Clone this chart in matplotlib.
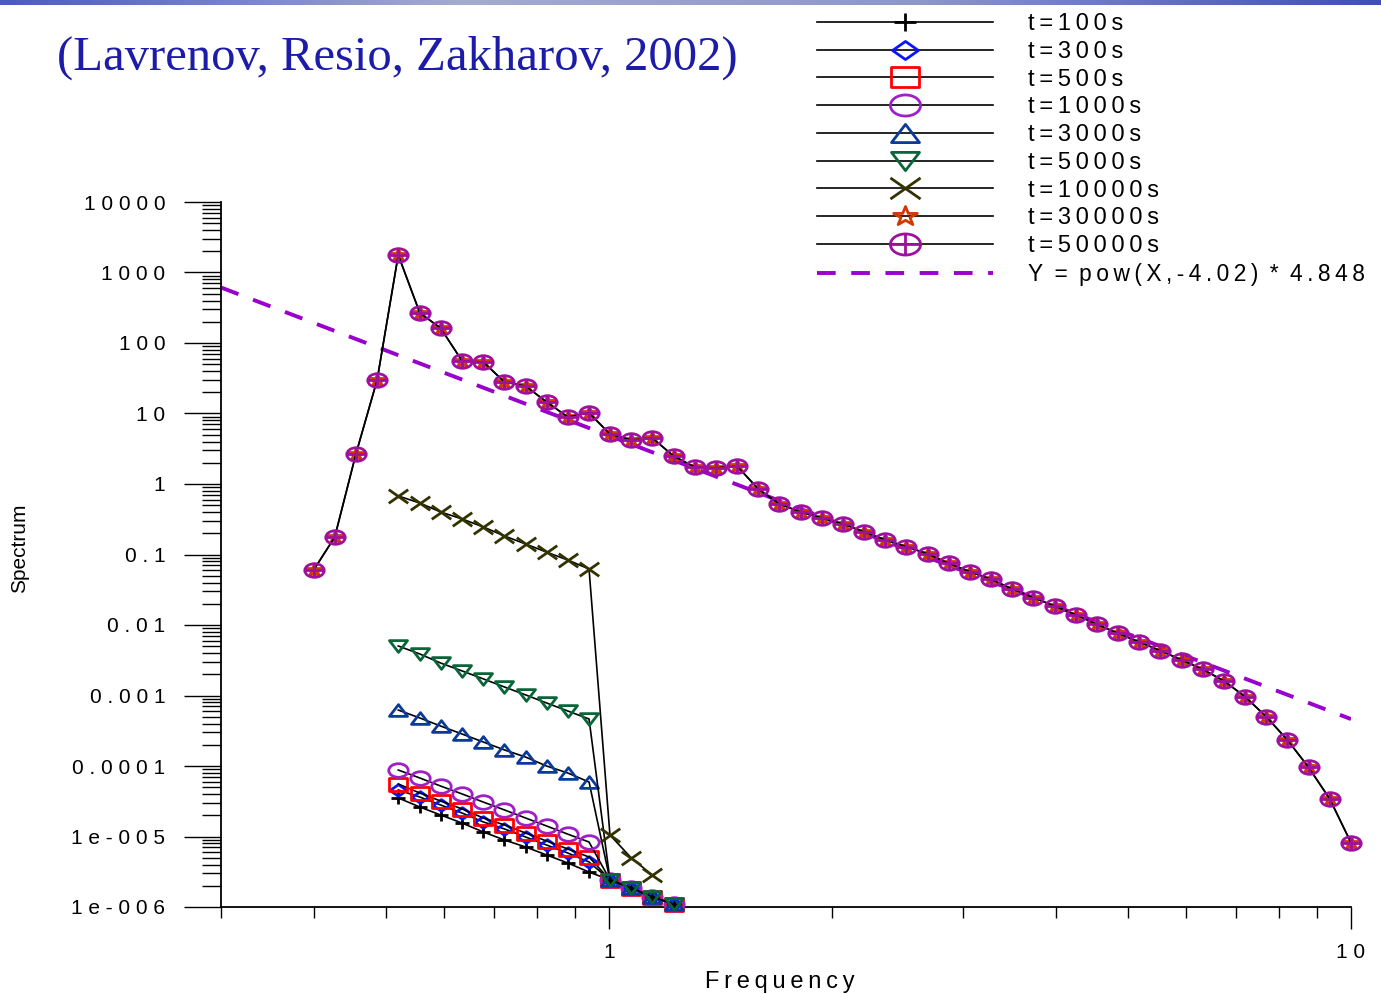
import numpy as np
import matplotlib
matplotlib.use('Agg')
import matplotlib.pyplot as plt
from matplotlib.path import Path
from matplotlib.markers import MarkerStyle
from matplotlib.ticker import LogLocator, NullFormatter
from matplotlib.colors import LinearSegmentedColormap

# frequency grid
freq = [0.400, 0.427, 0.456, 0.487, 0.520, 0.556, 0.593, 0.634, 0.677, 0.723,
        0.772, 0.824, 0.880, 0.940, 1.003, 1.072, 1.144, 1.222, 1.305, 1.394,
        1.488, 1.589, 1.697, 1.812, 1.935, 2.067, 2.207, 2.357, 2.517, 2.688,
        2.870, 3.065, 3.273, 3.495, 3.733, 3.986, 4.257, 4.546, 4.854, 5.184,
        5.536, 5.912, 6.313, 6.742, 7.199, 7.688, 8.210, 8.767, 9.363, 10.0]

s50000 = [0.0603, 0.177, 2.67, 29.9, 1770, 267, 163, 55.6, 53.8, 28.0,
          24.5, 14.6, 8.92, 10.2, 5.11, 4.21, 4.49, 2.49, 1.74, 1.69,
          1.80, 0.849, 0.520, 0.401, 0.330, 0.271, 0.210, 0.161, 0.129, 0.102,
          0.0750, 0.0570, 0.0445, 0.0324, 0.0244, 0.0186, 0.0140, 0.0102, 0.00762, 0.00574,
          0.00432, 0.00319, 0.00235, 0.00161, 0.000962, 0.000500, 0.000234, 9.58e-5, 3.40e-5, 8.17e-6]
# t=30000s sits exactly under t=50000s
s30000 = list(s50000)

# early times: points 4..13 of the grid, then a shared tail (points 14..17)
tail = [2.42e-6, 1.86e-6, 1.39e-6, 1.10e-6]
s100 = [3.52e-5, 2.62e-5, 2.02e-5, 1.55e-5, 1.16e-5, 8.92e-6, 7.10e-6, 5.47e-6, 4.21e-6, 3.13e-6] + tail
s300 = [4.57e-5, 3.63e-5, 2.80e-5, 2.15e-5, 1.61e-5, 1.28e-5, 9.84e-6, 7.57e-6, 5.83e-6, 4.35e-6] + tail
s500 = [5.56e-5, 4.14e-5, 3.19e-5, 2.46e-5, 1.83e-5, 1.46e-5, 1.12e-5, 8.63e-6, 6.65e-6, 5.12e-6] + tail
s1000 = [8.77e-5, 6.76e-5, 5.20e-5, 4.01e-5, 3.08e-5, 2.38e-5, 1.83e-5, 1.41e-5, 1.08e-5, 8.35e-6] + tail
s3000 = [6.22e-4, 4.80e-4, 3.69e-4, 2.84e-4, 2.19e-4, 1.69e-4, 1.34e-4, 1.00e-4, 7.96e-5, 5.93e-5] + tail
s5000 = [5.04e-3, 3.88e-3, 2.89e-3, 2.23e-3, 1.72e-3, 1.32e-3, 1.02e-3, 7.83e-4, 6.03e-4, 4.64e-4] + tail
s10000 = [0.676, 0.537, 0.401, 0.319, 0.246, 0.183, 0.141, 0.108, 0.0835, 0.0623,
          1.05e-5, 4.95e-6, 2.84e-6]

# fit Y = pow(X,-4.02) * 4.848 at the two ends of the axis
fit_x = [0.3, 10.0]
fit_y = [613.0, 4.63e-4]

ytick_vals = [1e-6, 1e-5, 1e-4, 1e-3, 1e-2, 1e-1, 1, 10, 100, 1000, 10000]
ytick_labels = ['1e-006', '1e-005', '0.0001', '0.001', '0.01', '0.1', '1', '10', '100', '1000', '10000']
xtick_vals = [1, 10]
xtick_labels = ['1', '10']

plt.rcParams['font.family'] = ['Liberation Sans', 'DejaVu Sans']


def squash(m, sy=0.7):
    ms = MarkerStyle(m)
    p = ms.get_path().transformed(ms.get_transform())
    return Path(p.vertices * np.array([1.0, sy]), p.codes)


def wide(s, sep='\u2009'):
    # the original uses a stretched font, fake it with letter spacing
    s = s.replace(' ', '\u2002')
    out = s[0]
    for a, b in zip(s[:-1], s[1:]):
        out += (b if '\u2002' in (a, b) else sep + b)
    return out


oplus = Path.make_compound_path(squash('o'), squash('+'))

W, H = 1381, 994
fig = plt.figure(figsize=(W / 100, H / 100), dpi=100)

# slide header strip
bar = fig.add_axes([0, 1 - 5 / H, 1, 5 / H])
cmap = LinearSegmentedColormap.from_list('bar', ['#4a5cc0', '#a4abd0', '#8d97c9', '#3e4fb8'])
bar.imshow(np.linspace(0, 1, 256)[None, :], aspect='auto', cmap=cmap)
bar.axis('off')

ax = fig.add_axes([221 / W, 87 / H, 1130 / W, 705 / H])
ax.set_xscale('log')
ax.set_yscale('log')

ax.plot(fit_x, fit_y, color='#9900cc', lw=2.8, dashes=(4.8, 4.0), zorder=1,
        label=wide('Y = pow(X,-4.02) * 4.848'))

early = freq[4:18]
series = [
    (early, s100, squash('+', 0.8), 10, 'black', 't=100s'),
    (early, s300, squash('D'), 12, '#0a14ff', 't=300s'),
    (early, s500, squash('s', 0.72), 13, '#ff0000', 't=500s'),
    (early, s1000, squash('o'), 14, '#a020c8', 't=1000s'),
    (early, s3000, squash('^', 0.65), 13, '#0a3a9a', 't=3000s'),
    (early, s5000, squash('v', 0.65), 13, '#0a6638', 't=5000s'),
    (freq[4:17], s10000, squash('x', 0.7), 14, '#333300', 't=10000s'),
    (freq, s30000, squash('*', 0.8), 11, '#d03a00', 't=30000s'),
    (freq, s50000, oplus, 14, '#a0109f', 't=50000s'),
]
handles = []
for xs, ys, mk, ms, col, lab in series:
    ln, = ax.plot(xs, ys, color='black', lw=1.2, marker=mk, markersize=ms,
                  markerfacecolor='none', markeredgecolor=col, markeredgewidth=2.0,
                  clip_on=False, zorder=3, label=wide(lab))
    handles.append(ln)
handles.append(ax.lines[0])

ax.set_xlim(0.3, 10)
ax.set_ylim(1e-6, 1e4)
for side in ['top', 'right']:
    ax.spines[side].set_visible(False)
for side in ['left', 'bottom']:
    ax.spines[side].set_linewidth(1.3)

ax.set_yticks(ytick_vals, labels=[' '.join(s) for s in ytick_labels])
ax.yaxis.set_minor_locator(LogLocator(base=10, subs=np.arange(2, 10), numticks=30))
ax.yaxis.set_minor_formatter(NullFormatter())
ax.set_xticks(xtick_vals, labels=[' '.join(s) for s in xtick_labels])
ax.xaxis.set_minor_locator(LogLocator(base=10, subs=np.arange(2, 10), numticks=30))
ax.xaxis.set_minor_formatter(NullFormatter())
ax.tick_params(axis='y', which='major', direction='out', length=27, width=1, pad=13, labelsize=15)
ax.tick_params(axis='y', which='minor', direction='out', length=13.5, width=1)
ax.tick_params(axis='x', which='major', direction='out', length=16, width=1, pad=10, labelsize=15)
ax.tick_params(axis='x', which='minor', direction='out', length=8, width=1)

leg = ax.legend(handles=handles, loc='upper left', bbox_to_anchor=(817 / W, 1 - 13 / H),
                bbox_transform=fig.transFigure, frameon=False, fontsize=17,
                handlelength=7.46, handletextpad=1.48, labelspacing=0.245,
                borderpad=0, borderaxespad=0, numpoints=1)
for h in leg.legend_handles:
    h.set_markersize(h.get_markersize() * 1.55)
leg.get_texts()[-1].set_fontsize(16.4)

fig.text(57 / W, 1 - 58 / H, '(Lavrenov, Resio, Zakharov, 2002)', family='Liberation Serif',
         fontsize=35, color='#1c1ca8', ha='left', va='center')
fig.text(780 / W, 1 - 982 / H, wide('Frequency'), fontsize=17, ha='center', va='center')
fig.text(20 / W, 1 - 548 / H, 'Spectrum', fontsize=15, rotation=90, ha='center', va='center')

fig.savefig('out.png', dpi=100)
